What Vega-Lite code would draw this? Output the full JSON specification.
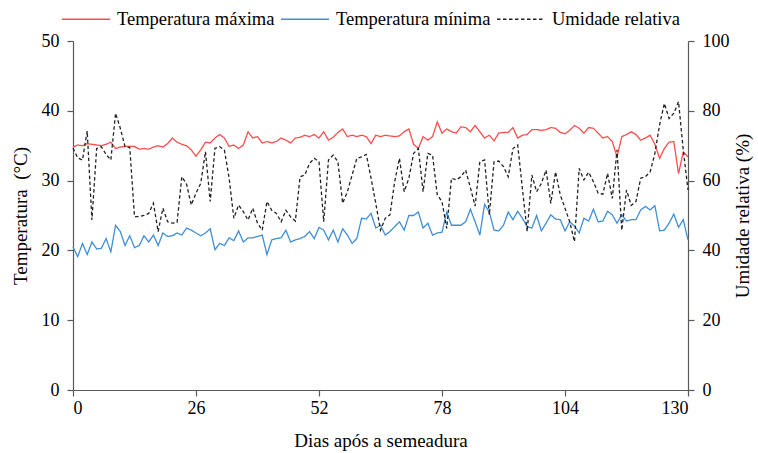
{
  "$schema": "https://vega.github.io/schema/vega-lite/v6.json",
  "width": 615,
  "height": 349,
  "autosize": {"type": "none"},
  "padding": {"left": 73, "top": 41, "right": 70, "bottom": 63},
  "background": "white",
  "config": {
    "font": "Liberation Serif",
    "view": {"stroke": null},
    "axis": {"grid": false, "domainColor": "#595959", "tickColor": "#595959", "labelColor": "#000000", "titleColor": "#000000", "labelFont": "Liberation Serif", "titleFont": "Liberation Serif", "labelFontSize": 18, "titleFontSize": 19, "titleFontWeight": "normal", "tickSize": 6, "domainWidth": 1.2, "tickWidth": 1.2},
    "legend": {"labelFont": "Liberation Serif", "labelFontSize": 18.5, "labelColor": "#000000"}
  },
  "data": {"values": [
    {"dia":0,"tmax":34.8,"tmin":20.5,"ur":69.3},{"dia":1,"tmax":35.1,"tmin":19.1,"ur":66.5},{"dia":2,"tmax":35.0,"tmin":21.0,"ur":65.9},{"dia":3,"tmax":35.3,"tmin":19.4,"ur":74.2},{"dia":4,"tmax":35.2,"tmin":21.2,"ur":48.7},
    {"dia":5,"tmax":35.1,"tmin":20.2,"ur":69.2},{"dia":6,"tmax":35.0,"tmin":20.3,"ur":69.7},{"dia":7,"tmax":35.2,"tmin":21.7,"ur":67.5},{"dia":8,"tmax":35.5,"tmin":19.8,"ur":65.9},{"dia":9,"tmax":34.6,"tmin":23.6,"ur":79.3},
    {"dia":10,"tmax":34.8,"tmin":22.7,"ur":75.0},{"dia":11,"tmax":34.9,"tmin":20.7,"ur":69.7},{"dia":12,"tmax":34.9,"tmin":22.1,"ur":69.5},{"dia":13,"tmax":34.9,"tmin":20.4,"ur":49.7},{"dia":14,"tmax":34.5,"tmin":20.7,"ur":49.7},
    {"dia":15,"tmax":34.6,"tmin":22.1,"ur":50.0},{"dia":16,"tmax":34.5,"tmin":21.2,"ur":50.6},{"dia":17,"tmax":34.8,"tmin":22.2,"ur":53.5},{"dia":18,"tmax":35.0,"tmin":20.7,"ur":45.4},{"dia":19,"tmax":34.8,"tmin":22.5,"ur":52.1},
    {"dia":20,"tmax":35.3,"tmin":22.0,"ur":48.2},{"dia":21,"tmax":36.1,"tmin":22.1,"ur":47.8},{"dia":22,"tmax":35.5,"tmin":22.5,"ur":48.0},{"dia":23,"tmax":35.2,"tmin":22.2,"ur":61.1},{"dia":24,"tmax":35.0,"tmin":23.2,"ur":59.0},
    {"dia":25,"tmax":34.4,"tmin":22.9,"ur":53.0},{"dia":26,"tmax":33.5,"tmin":22.5,"ur":56.4},{"dia":27,"tmax":34.4,"tmin":22.1,"ur":59.2},{"dia":28,"tmax":35.5,"tmin":22.5,"ur":68.3},{"dia":29,"tmax":35.4,"tmin":23.1,"ur":54.0},
    {"dia":30,"tmax":36.1,"tmin":20.1,"ur":69.2},{"dia":31,"tmax":36.6,"tmin":21.0,"ur":69.7},{"dia":32,"tmax":36.1,"tmin":20.7,"ur":68.8},{"dia":33,"tmax":34.9,"tmin":21.8,"ur":60.7},{"dia":34,"tmax":35.1,"tmin":21.4,"ur":49.2},
    {"dia":35,"tmax":34.6,"tmin":22.8,"ur":53.0},{"dia":36,"tmax":35.1,"tmin":21.2,"ur":51.1},{"dia":37,"tmax":37.0,"tmin":21.8,"ur":48.7},{"dia":38,"tmax":36.1,"tmin":21.8,"ur":52.1},{"dia":39,"tmax":36.3,"tmin":22.0,"ur":47.8},
    {"dia":40,"tmax":35.4,"tmin":22.2,"ur":45.8},{"dia":41,"tmax":35.6,"tmin":19.4,"ur":54.0},{"dia":42,"tmax":35.4,"tmin":21.5,"ur":51.5},{"dia":43,"tmax":35.6,"tmin":21.7,"ur":50.6},{"dia":44,"tmax":36.1,"tmin":21.8,"ur":48.2},
    {"dia":45,"tmax":35.8,"tmin":22.9,"ur":51.5},{"dia":46,"tmax":35.4,"tmin":21.2,"ur":49.6},{"dia":47,"tmax":36.1,"tmin":21.5,"ur":48.4},{"dia":48,"tmax":36.2,"tmin":21.7,"ur":61.1},{"dia":49,"tmax":36.5,"tmin":22.0,"ur":61.6},
    {"dia":50,"tmax":36.3,"tmin":22.7,"ur":64.9},{"dia":51,"tmax":36.6,"tmin":21.7,"ur":66.4},{"dia":52,"tmax":36.1,"tmin":23.3,"ur":65.4},{"dia":53,"tmax":37.0,"tmin":22.9,"ur":48.2},{"dia":54,"tmax":35.8,"tmin":21.5,"ur":65.9},
    {"dia":55,"tmax":36.2,"tmin":22.9,"ur":67.3},{"dia":56,"tmax":36.9,"tmin":21.2,"ur":65.4},{"dia":57,"tmax":37.4,"tmin":23.1,"ur":53.5},{"dia":58,"tmax":36.3,"tmin":22.2,"ur":56.8},{"dia":59,"tmax":36.5,"tmin":21.0,"ur":61.6},
    {"dia":60,"tmax":36.3,"tmin":21.7,"ur":66.4},{"dia":61,"tmax":36.5,"tmin":24.6,"ur":66.8},{"dia":62,"tmax":36.3,"tmin":24.5,"ur":67.5},{"dia":63,"tmax":35.3,"tmin":25.3,"ur":60.7},{"dia":64,"tmax":36.5,"tmin":23.2,"ur":53.5},
    {"dia":65,"tmax":36.3,"tmin":23.6,"ur":45.8},{"dia":66,"tmax":36.5,"tmin":22.2,"ur":49.2},{"dia":67,"tmax":36.4,"tmin":22.7,"ur":50.2},{"dia":68,"tmax":36.3,"tmin":23.4,"ur":59.7},{"dia":69,"tmax":36.4,"tmin":24.1,"ur":66.4},
    {"dia":70,"tmax":37.0,"tmin":22.9,"ur":56.8},{"dia":71,"tmax":37.4,"tmin":25.0,"ur":60.7},{"dia":72,"tmax":35.2,"tmin":25.0,"ur":67.8},{"dia":73,"tmax":34.6,"tmin":25.5,"ur":69.2},{"dia":74,"tmax":36.3,"tmin":23.2,"ur":56.8},
    {"dia":75,"tmax":35.8,"tmin":23.9,"ur":67.8},{"dia":76,"tmax":36.3,"tmin":22.2,"ur":67.3},{"dia":77,"tmax":38.4,"tmin":22.5,"ur":55.9},{"dia":78,"tmax":36.8,"tmin":22.6,"ur":54.0},{"dia":79,"tmax":37.4,"tmin":25.5,"ur":46.3},
    {"dia":80,"tmax":37.0,"tmin":23.6,"ur":60.7},{"dia":81,"tmax":36.8,"tmin":23.6,"ur":60.2},{"dia":82,"tmax":37.7,"tmin":23.6,"ur":61.1},{"dia":83,"tmax":37.6,"tmin":24.1,"ur":63.0},{"dia":84,"tmax":37.0,"tmin":25.9,"ur":58.0},
    {"dia":85,"tmax":37.9,"tmin":24.1,"ur":52.7},{"dia":86,"tmax":37.0,"tmin":22.2,"ur":65.4},{"dia":87,"tmax":36.1,"tmin":26.6,"ur":65.9},{"dia":88,"tmax":36.5,"tmin":25.5,"ur":50.2},{"dia":89,"tmax":35.7,"tmin":22.9,"ur":65.4},
    {"dia":90,"tmax":36.8,"tmin":22.8,"ur":65.6},{"dia":91,"tmax":36.9,"tmin":23.6,"ur":64.0},{"dia":92,"tmax":36.9,"tmin":25.5,"ur":61.1},{"dia":93,"tmax":37.6,"tmin":24.4,"ur":69.2},{"dia":94,"tmax":36.1,"tmin":25.6,"ur":70.2},
    {"dia":95,"tmax":36.5,"tmin":24.6,"ur":57.7},{"dia":96,"tmax":36.6,"tmin":23.4,"ur":45.4},{"dia":97,"tmax":37.3,"tmin":23.2,"ur":61.6},{"dia":98,"tmax":37.3,"tmin":25.0,"ur":56.8},{"dia":99,"tmax":37.2,"tmin":22.8,"ur":59.2},
    {"dia":100,"tmax":37.3,"tmin":23.9,"ur":63.0},{"dia":101,"tmax":37.6,"tmin":25.1,"ur":53.5},{"dia":102,"tmax":37.5,"tmin":24.5,"ur":62.5},{"dia":103,"tmax":36.9,"tmin":24.4,"ur":55.9},{"dia":104,"tmax":36.7,"tmin":22.8,"ur":52.1},
    {"dia":105,"tmax":37.2,"tmin":24.1,"ur":48.2},{"dia":106,"tmax":37.9,"tmin":23.5,"ur":42.5},{"dia":107,"tmax":37.5,"tmin":22.5,"ur":63.5},{"dia":108,"tmax":36.8,"tmin":24.6,"ur":60.2},{"dia":109,"tmax":37.6,"tmin":24.2,"ur":62.4},
    {"dia":110,"tmax":37.5,"tmin":25.9,"ur":59.7},{"dia":111,"tmax":36.8,"tmin":24.1,"ur":56.4},{"dia":112,"tmax":36.1,"tmin":24.2,"ur":56.1},{"dia":113,"tmax":36.3,"tmin":25.6,"ur":62.1},{"dia":114,"tmax":35.6,"tmin":25.1,"ur":54.9},
    {"dia":115,"tmax":33.4,"tmin":23.9,"ur":68.8},{"dia":116,"tmax":36.3,"tmin":25.1,"ur":45.8},{"dia":117,"tmax":36.6,"tmin":24.2,"ur":57.3},{"dia":118,"tmax":37.0,"tmin":24.4,"ur":52.9},{"dia":119,"tmax":36.6,"tmin":24.4,"ur":54.0},
    {"dia":120,"tmax":35.8,"tmin":25.8,"ur":60.7},{"dia":121,"tmax":36.1,"tmin":26.3,"ur":61.1},{"dia":122,"tmax":36.5,"tmin":25.8,"ur":62.5},{"dia":123,"tmax":35.2,"tmin":26.4,"ur":67.8},{"dia":124,"tmax":33.2,"tmin":22.8,"ur":76.0},
    {"dia":125,"tmax":34.6,"tmin":22.9,"ur":82.1},{"dia":126,"tmax":35.5,"tmin":23.9,"ur":77.8},{"dia":127,"tmax":35.6,"tmin":25.2,"ur":79.3},{"dia":128,"tmax":31.0,"tmin":23.3,"ur":82.6},{"dia":129,"tmax":34.1,"tmin":24.4,"ur":68.8},
    {"dia":130,"tmax":33.4,"tmin":21.5,"ur":57.3}
  ]},
  "layer": [
    {
      "transform": [{"fold": ["tmax", "tmin"], "as": ["serie", "valor"]}],
      "mark": {"type": "line", "strokeWidth": 1.3},
      "encoding": {
        "x": {"field": "dia", "type": "quantitative", "scale": {"domain": [0, 130], "nice": false}, "axis": {"values": [0, 26, 52, 78, 104, 130], "title": "Dias após a semeadura", "labelPadding": 3, "titlePadding": 14}},
        "y": {"field": "valor", "type": "quantitative", "scale": {"domain": [0, 50], "nice": false}, "axis": {"orient": "left", "values": [0, 10, 20, 30, 40, 50], "title": "Temperatura\u00a0 (°C)", "labelPadding": 8, "titlePadding": 11}},
        "color": {"field": "serie", "type": "nominal", "scale": {"domain": ["tmax", "tmin", "ur"], "range": ["#FF4D4D", "#3F8FD6", "#222222"]}, "legend": {"title": null, "orient": "none", "direction": "horizontal", "legendX": -12, "legendY": -47, "symbolType": "stroke", "symbolSize": 2304, "symbolStrokeWidth": 1.5, "columnPadding": 3, "labelOffset": 6, "labelExpr": "datum.label == 'tmax' ? 'Temperatura máxima' : datum.label == 'tmin' ? 'Temperatura mínima' : 'Umidade relativa'"}},
        "strokeDash": {"field": "serie", "type": "nominal", "scale": {"domain": ["tmax", "tmin", "ur"], "range": [[1, 0], [1, 0], [3.5, 2.5]]}, "legend": {"title": null, "orient": "none", "direction": "horizontal", "legendX": -12, "legendY": -47, "symbolType": "stroke", "symbolSize": 2304, "symbolStrokeWidth": 1.5, "columnPadding": 3, "labelOffset": 6, "labelExpr": "datum.label == 'tmax' ? 'Temperatura máxima' : datum.label == 'tmin' ? 'Temperatura mínima' : 'Umidade relativa'"}}
      }
    },
    {
      "transform": [{"fold": ["ur"], "as": ["serie", "valor"]}],
      "mark": {"type": "line", "strokeWidth": 1.3},
      "encoding": {
        "x": {"field": "dia", "type": "quantitative"},
        "y": {"field": "valor", "type": "quantitative", "scale": {"domain": [0, 100], "nice": false}, "axis": {"orient": "right", "values": [0, 20, 40, 60, 80, 100], "title": "Umidade relativa (%)", "labelPadding": 8, "titlePadding": 4, "titleAngle": -90, "titleBaseline": "top"}},
        "color": {"field": "serie", "type": "nominal"},
        "strokeDash": {"field": "serie", "type": "nominal"}
      }
    }
  ],
  "resolve": {"scale": {"y": "independent"}}
}
